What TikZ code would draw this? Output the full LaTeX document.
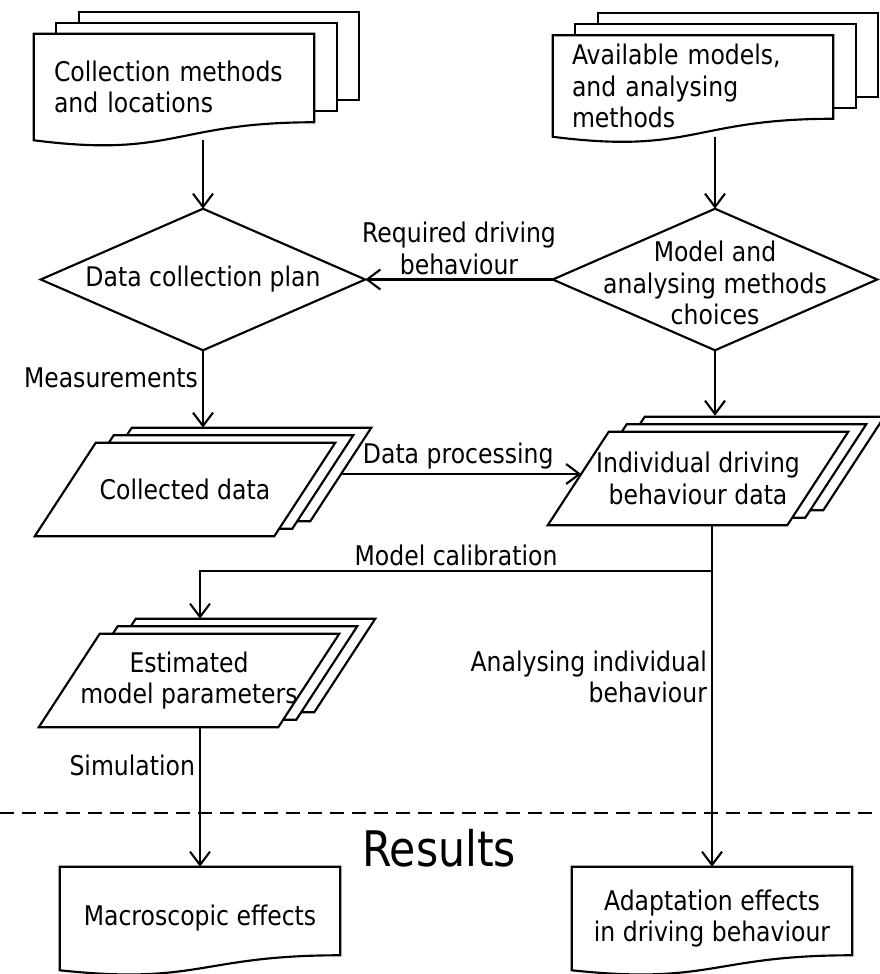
\documentclass[tikz,border=0pt]{standalone}
\usepackage{fontspec}
\setmainfont{DejaVu Sans}[FakeStretch=0.87]
\usetikzlibrary{arrows.meta, positioning, backgrounds, calc}

\newcommand{\pxu}{0.75pt}
\newcommand{\mainsize}{\fontsize{20.3}{23.5}\selectfont}

\tikzset{
    >={Straight Barb[length=10pt, width=15pt]},
    % Text holders (outlines are drawn on the background layer)
    txt/.style={rectangle, inner sep=0pt, align=center, font=\mainsize},
    docbox/.style={txt, minimum width=280*\pxu, minimum height=#1*\pxu},
    plbox/.style={txt, minimum width=300*\pxu, minimum height=93*\pxu},
    dmbox/.style={txt, minimum width=324*\pxu, minimum height=141*\pxu},
    shapeline/.style={draw=black, fill=white, line width=1.6pt, line join=miter},
    % Flow & Labels
    flow/.style={->, line width=1.6pt},
    lbl/.style={font=\mainsize, inner sep=3pt, align=center},
    cut/.style={line width=1.6pt, dash pattern=on 10.5pt off 6pt}
}

% front page of a document, #2 = depth of the wave
\newcommand{\docshape}[2]{%
  \draw[shapeline] (#1.north west) -- (#1.north east) -- ($(#1.south east)+(0,-#2)$)
    .. controls ($(#1.south)+(0,-#2)$) and ($(#1.south)+(0,#2)$) .. (#1.south west) -- cycle;
}
% page #3 behind a document
\newcommand{\docback}[3]{%
  \draw[shapeline] ($(#1.north west)+(#3*22.5,-#3*11)$) rectangle ($(#1.south east)+(#3*22.5,-#2-#3*11)$);
}
% data sheet #2 of a parallelogram stack
\newcommand{\plshape}[2]{%
  \draw[shapeline] ($(#1.north west)+(61+#2*18,-#2*7.5)$) -- ($(#1.north east)+(#2*18,-#2*7.5)$)
    -- ($(#1.south east)+(-61+#2*18,-#2*7.5)$) -- ($(#1.south west)+(#2*18,-#2*7.5)$) -- cycle;
}

\begin{document}
\begin{tikzpicture}[x=\pxu, y=-\pxu]

\useasboundingbox (0,0) rectangle (880,974);

\node[docbox=106, align=left, text width=240*\pxu] (cmeth) at (174,87) {Collection methods\\and locations};
\node[docbox=101, align=left, text width=242*\pxu] (amod) at (693,86) {Available models,\\and analysing\\methods};
\node[dmbox] (dcp) at (203,279.5) {Data collection plan};
\node[dmbox] (mc) at (715,283) {Model and\\analysing methods\\choices};
\node[plbox] (coll) at (185,489.5) {Collected data};
\node[plbox] (indiv) at (698,478.5) {Individual driving\\behaviour data};
\node[plbox] (est) at (189,680.5) {Estimated\\model parameters};
\node[docbox=103] (macro) at (200,918.5) {Macroscopic effects};
\node[docbox=103] (adapt) at (712,918.5) {Adaptation effects\\in driving behaviour};
\node[font=\fontsize{36.75}{40}\selectfont, inner sep=0pt] (res) at (439,848) {Results};

\coordinate (calib) at ($(indiv.south -| adapt.north)+(0,46)$);

\begin{scope}[on background layer]
\draw[flow] (cmeth.south -| dcp.north) -- (dcp.north);
\draw[flow] (amod.south -| mc.north) -- (mc.north |- dcp.north);
\draw[flow] (mc.west |- dcp.east) -- node[lbl, above] {Required driving\\behaviour} (dcp.east);
\draw[flow] (dcp.south) -- node[lbl, left, pos=0.36] {Measurements} ($(coll.north -| dcp.south)+(0,-15)$);
\draw[flow] (mc.south |- dcp.south) -- ($(indiv.north -| mc.south)+(0,-16)$);
\draw[flow] ($(coll.east)+(0,-15.5)$) -- node[lbl, above] {Data processing} ($(indiv.west)+(33.5,-4.5)$);
\draw[flow] (indiv.south -| adapt.north) -- node[lbl, left, align=right, pos=0.445] {Analysing individual\\behaviour} (adapt.north);
\draw[flow] (calib) -| node[lbl, above, pos=0.25] {Model calibration} ($(est.north -| macro.north)+(0,-15)$);
\draw[flow] (est.south -| macro.north) -- node[lbl, left, pos=0.27] {Simulation} (macro.north);

% stacks, back to front
\foreach \k in {2,1} {\docback{cmeth}{18}{\k}}
\docshape{cmeth}{18}
\foreach \k in {2,1} {\docback{amod}{18}{\k}}
\docshape{amod}{18}
\foreach \n in {coll, indiv, est} {
  \foreach \k in {2,1,0} {\plshape{\n}{\k}}
}
\draw[shapeline] (dcp.north) -- (dcp.east) -- (dcp.south) -- (dcp.west) -- cycle;
\draw[shapeline] (mc.north |- dcp.north) -- (mc.east |- dcp.east) -- (mc.south |- dcp.south) -- (mc.west |- dcp.west) -- cycle;
\docshape{macro}{15}
\docshape{adapt}{15}
\end{scope}

\draw[cut] (0,813) -- (880,813);

\end{tikzpicture}
\end{document}
